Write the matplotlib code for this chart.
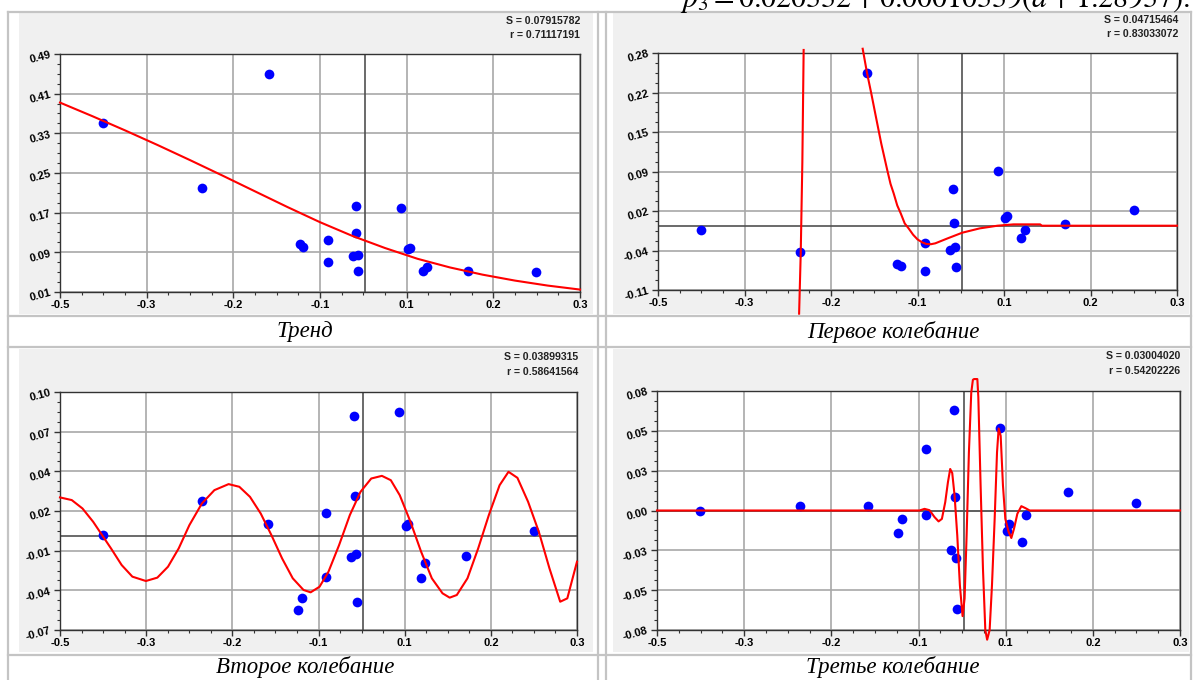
import numpy as np
import matplotlib.pyplot as plt
from matplotlib.patches import Rectangle
from matplotlib.lines import Line2D
from matplotlib.ticker import AutoMinorLocator

W, H = 1195, 680

# abscissas of the observations (same in all four charts)
a_obs = [-0.434, -0.281, -0.178, -0.131, -0.126, -0.088, -0.088, -0.050, -0.045, -0.044,
         -0.042, -0.041, 0.024, 0.035, 0.038, 0.059, 0.065, 0.128, 0.233]

trend_obs = [0.351, 0.220, 0.450, 0.106, 0.100, 0.115, 0.071, 0.083, 0.183, 0.128,
             0.085, 0.052, 0.179, 0.097, 0.099, 0.053, 0.061, 0.053, 0.050]
osc1_obs = [-0.011, -0.048, 0.247, -0.067, -0.070, -0.032, -0.078, -0.044, 0.056, 0.001,
            -0.039, -0.072, 0.086, 0.009, 0.011, -0.025, -0.012, -0.002, 0.021]
osc2_obs = [-0.002, 0.022, 0.006, -0.056, -0.047, 0.0135, -0.032, -0.018, 0.083, 0.026,
            -0.016, -0.050, 0.086, 0.004, 0.006, -0.033, -0.022, -0.017, 0.001]
osc3_obs = [0.000, 0.003, 0.003, -0.015, -0.0055, 0.041, -0.003, -0.0265, 0.067, 0.009,
            -0.032, -0.066, 0.055, -0.014, -0.009, -0.021, -0.003, 0.0125, 0.005]

# fitted curves
trend_x = [-0.5, -0.45, -0.4, -0.35, -0.3, -0.25, -0.2, -0.15, -0.1, -0.05,
           0.0, 0.05, 0.1, 0.15, 0.2, 0.25, 0.3]
trend_y = [0.392, 0.3645, 0.336, 0.3065, 0.276, 0.2448, 0.213, 0.1813, 0.1508, 0.123,
           0.0987, 0.0770, 0.0595, 0.0450, 0.0330, 0.0230, 0.0149]

osc1_left_x = [-0.2755, -0.2775, -0.2800, -0.2825]
osc1_left_y = [0.285, 0.10, -0.05, -0.149]
osc1_x = [-0.1845, -0.1778, -0.1712, -0.1641, -0.1559, -0.1466, -0.1416, -0.1367, -0.1312, -0.1258,
          -0.1197, -0.1137, -0.1068, -0.1000, -0.0930, -0.0863, -0.0795, -0.0726, -0.0535, -0.0310,
          -0.0041, 0.0233, 0.0480, 0.0890, 0.0918, 0.3]
osc1_y = [0.287, 0.2471, 0.2132, 0.1749, 0.1311, 0.0872, 0.0647, 0.0489, 0.0291, 0.0160,
          -0.0005, -0.0086, -0.0190, -0.0267, -0.0315, -0.0343, -0.0347, -0.0332, -0.0250, -0.0157,
          -0.0086, -0.0042, -0.0020, -0.0020, -0.0042, -0.0042]

osc2_x = [-0.5, -0.4818, -0.4652, -0.4487, -0.4349, -0.4211, -0.4046, -0.388, -0.3671, -0.3494,
          -0.3329, -0.3163, -0.2998, -0.2804, -0.2611, -0.2391, -0.2225, -0.206, -0.1894, -0.1729,
          -0.1563, -0.1398, -0.1232, -0.1122, -0.0984, -0.0846, -0.0681, -0.0515, -0.035, -0.0184,
          -0.0019, 0.0119, 0.0257, 0.0423, 0.0588, 0.0754, 0.0919, 0.103, 0.114, 0.1305,
          0.1471, 0.1636, 0.1802, 0.194, 0.2078, 0.2243, 0.2409, 0.2574, 0.274, 0.285, 0.3]
osc2_y = [0.0247, 0.0228, 0.0168, 0.0073, -0.0022, -0.0117, -0.0236, -0.0319, -0.035, -0.0326,
          -0.0248, -0.0117, 0.0049, 0.0204, 0.0299, 0.0342, 0.0323, 0.0251, 0.0132, -0.0022,
          -0.0189, -0.0331, -0.0414, -0.0431, -0.0391, -0.0284, -0.0093, 0.0121, 0.0287, 0.0382,
          0.0401, 0.0370, 0.0263, 0.0073, -0.0141, -0.0331, -0.0438, -0.0469, -0.045, -0.0331,
          -0.0117, 0.0121, 0.0334, 0.043, 0.0387, 0.0216, 0.0002, -0.026, -0.0498, -0.0474, -0.0212]

osc3_x = [-0.5, -0.0985, -0.0908, -0.0831, -0.0755, -0.0693, -0.0642, -0.0591, -0.0550, -0.0515,
          -0.0484, -0.0448, -0.0407, -0.0367, -0.0326, -0.0295, -0.0264, -0.0229, -0.0193, -0.0168,
          -0.0150, -0.0100, -0.0085, -0.0050, -0.0014, 0.0022, 0.0050, 0.0088, 0.0124, 0.0165,
          0.0201, 0.0226, 0.0257, 0.0292, 0.0328, 0.0379, 0.0420, 0.0461, 0.0512, 0.0573,
          0.0635, 0.0701, 0.3]
osc3_y = [0.0, 0.0, 0.0011, 0.0002, -0.0044, -0.0073, -0.0056, 0.0056, 0.0189, 0.0278,
          0.0251, 0.0100, -0.0167, -0.0500, -0.0707, -0.0589, -0.0167, 0.0389, 0.0789, 0.0875,
          0.0880, 0.0880, 0.0760, 0.0167, -0.0389, -0.0800, -0.0865, -0.0800, -0.0500, -0.0056,
          0.0389, 0.0549, 0.0500, 0.0167, -0.0056, -0.0144, -0.0184, -0.0122, -0.0022, 0.0029,
          0.0016, 0.0, 0.0]

x_labels = ['-0.5', '-0.3', '-0.2', '-0.1', '0.1', '0.2', '0.3']
a_zero = -0.031

panels = [
    dict(title='Тренд', S='S = 0.07915782', r='r = 0.71117191', ylim=(0.01, 0.49),
         ylabels=['0.01', '0.09', '0.17', '0.25', '0.33', '0.41', '0.49'], y_zero=None,
         obs=trend_obs, curves=[(trend_x, trend_y)],
         box=(19, 13, 593, 314), plot=(60, 54, 580, 292), st=(580, 21, 35), cap=(305, 332)),
    dict(title='Первое колебание', S='S = 0.04715464', r='r = 0.83033072', ylim=(-0.11, 0.28),
         ylabels=['-0.11', '-0.04', '0.02', '0.09', '0.15', '0.22', '0.28'], y_zero=-0.0042,
         obs=osc1_obs, curves=[(osc1_left_x, osc1_left_y), (osc1_x, osc1_y)],
         box=(613, 13, 1189, 314), plot=(658, 53, 1177, 290), st=(1178, 20, 34), cap=(893, 332)),
    dict(title='Второе колебание', S='S = 0.03899315', r='r = 0.58641564', ylim=(-0.07, 0.10),
         ylabels=['-0.07', '-0.04', '-0.01', '0.02', '0.04', '0.07', '0.10'], y_zero=-0.0027,
         obs=osc2_obs, curves=[(osc2_x, osc2_y)],
         box=(19, 349, 593, 652), plot=(60, 392, 577, 630), st=(578, 357, 372), cap=(305, 667)),
    dict(title='Третье колебание', S='S = 0.03004020', r='r = 0.54202226', ylim=(-0.08, 0.08),
         ylabels=['-0.08', '-0.05', '-0.03', '0.00', '0.03', '0.05', '0.08'], y_zero=0.0,
         obs=osc3_obs, curves=[(osc3_x, osc3_y)],
         box=(613, 349, 1189, 652), plot=(657, 391, 1180, 630), st=(1180, 356, 371), cap=(893, 667)),
]

fig = plt.figure(figsize=(W / 100, H / 100), dpi=100)
fig.patch.set_facecolor('white')

def fx(px):
    return px / W

def fy(py):
    return 1 - py / H

# table borders
border = '#c4c4c4'
for yy in [12, 316, 347, 655]:
    fig.add_artist(Line2D([fx(8), fx(1191)], [fy(yy), fy(yy)], color=border, lw=1.6))
for xx in [8, 598, 606, 1191]:
    fig.add_artist(Line2D([fx(xx), fx(xx)], [fy(12), fy(680)], color=border, lw=1.6))

# formula line of the page above the table, cut by the top edge
fig.text(fx(1190), fy(7), r'$p_3 = 0.020332 + 0.00010339(a + 1.28937).$',
         ha='right', va='baseline', fontsize=21.5, math_fontfamily='stix')

for p in panels:
    bx0, by0, bx1, by1 = p['box']
    fig.add_artist(Rectangle((fx(bx0), fy(by1)), fx(bx1 - bx0), (by1 - by0) / H,
                             transform=fig.transFigure, facecolor='#f0f0f0', edgecolor='none', zorder=0))
    px0, py0, px1, py1 = p['plot']
    ax = fig.add_axes([fx(px0), fy(py1), fx(px1 - px0), (py1 - py0) / H])
    ax.set_facecolor('white')
    ax.set_xlim(-0.5, 0.3)
    ax.set_ylim(*p['ylim'])
    ax.set_xticks(np.linspace(-0.5, 0.3, 7))
    ax.set_xticklabels(x_labels, fontsize=8, fontweight='bold', family='Liberation Sans')
    ax.set_yticks(np.linspace(p['ylim'][0], p['ylim'][1], 7))
    ax.set_yticklabels(p['ylabels'], fontsize=8, fontweight='bold', family='Liberation Sans',
                       rotation=15)
    ax.xaxis.set_minor_locator(AutoMinorLocator(4))
    ax.yaxis.set_minor_locator(AutoMinorLocator(4))
    ax.tick_params(which='major', length=4, width=1, color='#333333', pad=2)
    ax.tick_params(which='minor', length=2, width=0.8, color='#333333')
    ax.grid(True, which='major', color='#a8a8a8', lw=1.2, zorder=1)
    for sp in ax.spines.values():
        sp.set_color('#333333')
        sp.set_linewidth(1)
    ax.axvline(a_zero, color='#505050', lw=1.2, zorder=2)
    if p['y_zero'] is not None:
        ax.axhline(p['y_zero'], color='#505050', lw=1.2, zorder=2)
    ax.plot(a_obs, p['obs'], 'o', color='#0000ff', ms=7, mec='none', zorder=3)
    for cx, cy in p['curves']:
        ax.plot(cx, cy, color='#ff0000', lw=1.5, zorder=4, clip_on=False)

    sx, sy1, sy2 = p['st']
    fig.text(fx(sx), fy(sy1), p['S'], ha='right', va='center', fontsize=7.6,
             fontweight='bold', family='Liberation Sans', color='#222222')
    fig.text(fx(sx), fy(sy2), p['r'], ha='right', va='center', fontsize=7.6,
             fontweight='bold', family='Liberation Sans', color='#222222')
    cx_, cy_ = p['cap']
    fig.text(fx(cx_), fy(cy_), p['title'], ha='center', va='center', fontsize=16.5,
             style='italic', family='Liberation Serif')

fig.savefig('out.png', dpi=100)
